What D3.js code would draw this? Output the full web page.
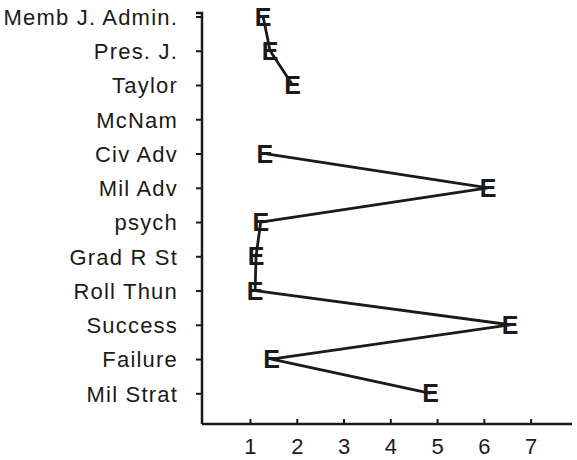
<!DOCTYPE html>
<html>
<head>
<meta charset="utf-8">
<script src="https://cdn.jsdelivr.net/npm/d3@7"></script>
<style>
  html, body { margin: 0; padding: 0; background: #fff; }
  svg { display: block; }
</style>
</head>
<body>
<svg id="chart" width="577" height="460"></svg>
<script>
// Data
const categories = ["Memb J. Admin.", "Pres. J.", "Taylor", "McNam", "Civ Adv", "Mil Adv",
                    "psych", "Grad R St", "Roll Thun", "Success", "Failure", "Mil Strat"];
const values = [1.28, 1.43, 1.91, null, 1.32, 6.09, 1.23, 1.13, 1.11, 6.56, 1.46, 4.86];
const xTicks = [1, 2, 3, 4, 5, 6, 7];
const markerSymbol = "E";

const svg = d3.select("#chart");
const axisX0 = 202, axisY0 = 424;

const x = d3.scaleLinear().domain([0, 8]).range([203.2, 577.4]);
const y = d3.scalePoint().domain(categories).range([16.5, 393.3]);

const ink = "#1a1a1a";
const font = "'Liberation Sans', Arial, Helvetica, sans-serif";

// Y axis
const yAxis = d3.axisLeft(y).tickSize(6).tickSizeOuter(0).tickPadding(18);
const gy = svg.append("g").attr("transform", `translate(${axisX0},0)`).call(yAxis);
gy.select(".domain").remove();
gy.selectAll(".tick line").attr("stroke", ink).attr("stroke-width", 2);
gy.selectAll(".tick text")
  .attr("fill", ink)
  .style("font-family", font)
  .style("font-size", "22px")
  .style("letter-spacing", "1.2px")
  .attr("dy", "0.36em");
svg.append("path")
  .attr("d", `M${axisX0 - 6},13 H${axisX0} V${axisY0}`)
  .attr("fill", "none").attr("stroke", ink).attr("stroke-width", 2.5);

// X axis
const xAxis = d3.axisBottom(x).tickValues(xTicks).tickSize(0).tickPadding(14).tickFormat(d3.format("d"));
const gx = svg.append("g").attr("transform", `translate(0,${axisY0})`).call(xAxis);
gx.select(".domain").remove();
gx.selectAll(".tick text")
  .attr("fill", ink)
  .style("font-family", font)
  .style("font-size", "22px")
  .attr("dy", "0.71em");
gx.selectAll(".tick").append("line")
  .attr("y1", 0).attr("y2", -5).attr("stroke", ink).attr("stroke-width", 2);
svg.append("line")
  .attr("x1", axisX0).attr("x2", 572).attr("y1", axisY0).attr("y2", axisY0)
  .attr("stroke", ink).attr("stroke-width", 2.5);

// Line
const pts = categories.map((c, i) => ({ c, v: values[i] }));
const line = d3.line()
  .defined(d => d.v !== null)
  .x(d => x(d.v))
  .y(d => y(d.c));
svg.append("path")
  .datum(pts)
  .attr("d", line)
  .attr("fill", "none")
  .attr("stroke", ink)
  .attr("stroke-width", 2.8)
  .attr("stroke-linejoin", "round");

// Markers
svg.append("g").selectAll("text")
  .data(pts.filter(d => d.v !== null))
  .join("text")
  .attr("x", d => x(d.v))
  .attr("y", d => y(d.c) + 9)
  .attr("text-anchor", "middle")
  .attr("fill", ink)
  .style("font-family", font)
  .style("font-weight", "bold")
  .style("font-size", "25px")
  .text(markerSymbol);
</script>
</body>
</html>
